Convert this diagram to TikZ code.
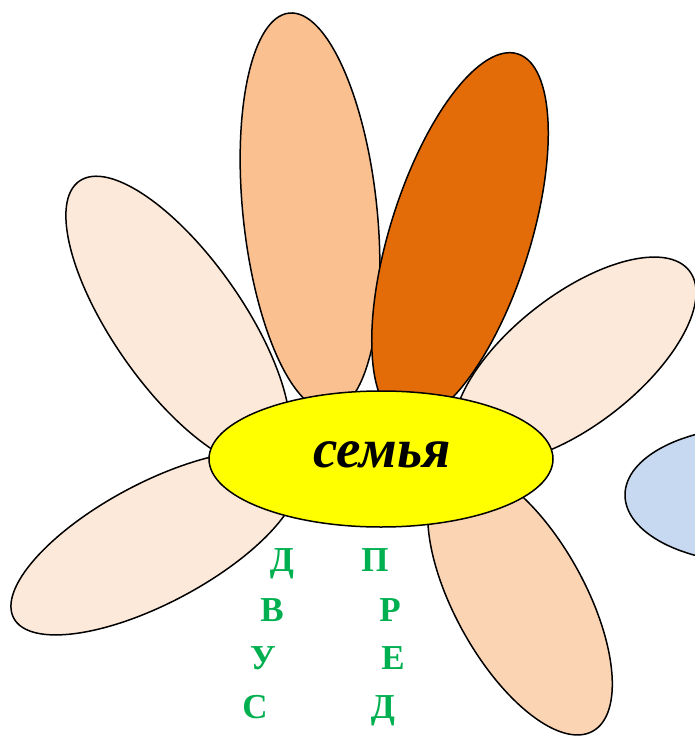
\documentclass[tikz,border=0pt]{standalone}
\usepackage{fontspec}
\setmainfont{Liberation Serif}
\usepackage{tikz}
\usetikzlibrary{shapes.geometric}

\definecolor{palepetal}{HTML}{FDE9D9}
\definecolor{lightorange}{HTML}{FAC090}
\definecolor{darkorange}{HTML}{E36C09}
\definecolor{peachpetal}{HTML}{FBD4B4}
\definecolor{bluepetal}{HTML}{C6D9F1}
\definecolor{coreyellow}{HTML}{FFFF00}
\definecolor{lettergreen}{HTML}{00B050}

\begin{document}
\begin{tikzpicture}[
    x=1pt, y=-1pt,
    petal/.style={draw=black, line width=1.5pt},
    core/.style={ellipse, draw=black, line width=1.5pt, fill=coreyellow, minimum width=344pt, minimum height=136pt, inner sep=0pt},
    letter/.style={anchor=base, text=lettergreen, font=\fontsize{35}{35}\selectfont\bfseries}
]
\useasboundingbox (0,0) rectangle (695,738);

% petals
\draw[petal, fill=palepetal, rotate around={-55:(178,322)}] (178,322) ellipse [x radius=172, y radius=65];
\draw[petal, fill=lightorange, rotate around={96:(310,212)}] (310,212) ellipse [x radius=200, y radius=67];
\draw[petal, fill=darkorange, rotate around={72.5:(460,237)}] (460,237) ellipse [x radius=192, y radius=70];
\draw[petal, fill=palepetal, rotate around={38:(575,360)}] (575,360) ellipse [x radius=145, y radius=65];
\draw[petal, fill=palepetal, rotate around={28:(155,543)}] (155,543) ellipse [x radius=160, y radius=60];
\draw[petal, fill=peachpetal, rotate around={119:(520,600)}] (520,600) ellipse [x radius=150, y radius=65];
\draw[petal, fill=bluepetal] (755,495) ellipse [x radius=130, y radius=68];

% centre
\node[core] (family) at (381,459) {};
\node[font=\fontsize{55}{55}\selectfont\bfseries\itshape] (word) at (382,455) {семья};

% letters
\node[letter] (d1) at (282,571) {Д};
\node[letter] (v)  at (272,621) {В};
\node[letter] (u)  at (263,669) {У};
\node[letter] (s)  at (255,718) {С};
\node[letter] (p)  at (375,571) {П};
\node[letter] (r)  at (390,621) {Р};
\node[letter] (e)  at (393,669) {Е};
\node[letter] (d2) at (383,718) {Д};
\end{tikzpicture}
\end{document}
